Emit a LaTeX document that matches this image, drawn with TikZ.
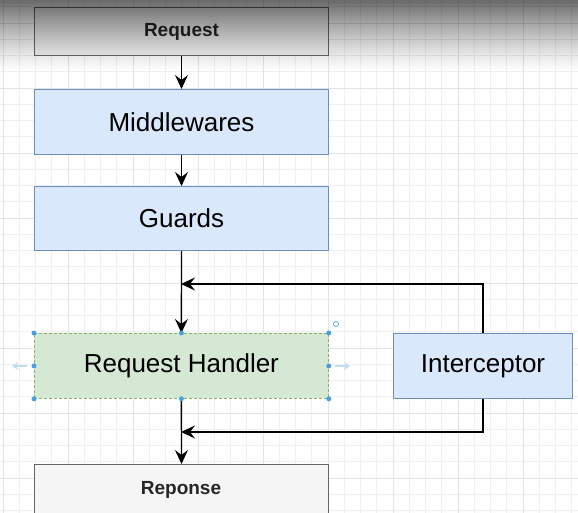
\documentclass[tikz,border=0pt]{standalone}
\usepackage{fontspec}
\setmainfont{Liberation Sans}
\usetikzlibrary{arrows.meta}
\definecolor{bluefill}{HTML}{DAE8FC}
\definecolor{blueline}{HTML}{6C8EBF}
\definecolor{greenfill}{HTML}{D5E8D4}
\definecolor{greenline}{HTML}{82B366}
\definecolor{grayfill}{HTML}{F5F5F5}
\definecolor{grayline}{HTML}{666666}
\definecolor{gridc}{HTML}{F0F0F0}
\definecolor{gridm}{HTML}{E4E4E4}
\definecolor{handle}{HTML}{4A9FE0}
\begin{document}
\begin{tikzpicture}[x=1pt,y=-1pt,
  box/.style={draw, rectangle, line width=1pt, anchor=north west, inner sep=0pt},
  bluebox/.style={box, fill=bluefill, draw=blueline, font=\fontsize{26}{30}\selectfont},
  flow/.style={line width=1.4pt, -{Stealth[length=14pt,width=13pt,inset=5pt]}},
  dot/.style={circle, fill=handle, inner sep=0pt, minimum size=5pt}]
\useasboundingbox (0,0) rectangle (578,513);
\fill[white] (0,0) rectangle (578,513);
% grid
\foreach \i in {0,...,36} {
  \pgfmathsetmacro\xx{3+16.25*\i}
  \draw[gridc, line width=0.6pt] (\xx,0) -- (\xx,513);
}
\foreach \i in {-1,...,31} {
  \pgfmathsetmacro\yy{23+16.25*\i}
  \draw[gridc, line width=0.6pt] (0,\yy) -- (578,\yy);
}
\foreach \i in {0,...,9} {
  \pgfmathsetmacro\xx{3+65*\i}
  \draw[gridm, line width=0.7pt] (\xx,0) -- (\xx,513);
}
\foreach \i in {0,...,7} {
  \pgfmathsetmacro\yy{23+65*\i}
  \draw[gridm, line width=0.7pt] (0,\yy) -- (578,\yy);
}
% request box (under the screen shading)
\node[box, fill=grayfill, draw=grayline, minimum width=294pt, minimum height=48pt,
  font=\bfseries\fontsize{19}{22}\selectfont, text=black!85] (req) at (34,7) {Request};
% top shading of the screenshot
\foreach \s in {0,2,...,70} {
  \pgfmathsetmacro\op{0.58*(1-\s/72)^1.3}
  \fill[black, opacity=\op] (0,\s) rectangle (578,\s+2);
}
% nodes
\node[bluebox, minimum width=294pt, minimum height=65pt] (mid) at (34,89) {Middlewares};
\node[bluebox, minimum width=294pt, minimum height=64pt] (grd) at (34,186) {Guards};
\node[box, fill=greenfill, draw=greenline, densely dashed, line width=0.8pt, minimum width=294pt, minimum height=65pt,
  font=\fontsize{26}{30}\selectfont] (rh) at (34,333) {Request Handler};
\node[bluebox, minimum width=179pt, minimum height=65pt] (int) at (393,333) {Interceptor};
\node[box, fill=grayfill, draw=grayline, minimum width=294pt, minimum height=60pt] (resp) at (34,464) {};
\node[font=\bfseries\fontsize{19}{22}\selectfont, text=black!85] (resptxt) at (181,490) {Reponse};
% connectors
\draw[flow] (req.south) -- (mid.north);
\draw[flow] (mid.south) -- (grd.north);
\draw[flow] (grd.south) -- (rh.north);
\draw[flow] (rh.south) -- (resp.north);
\coordinate (j1) at (181,284);
\coordinate (j2) at (181,432);
\draw[flow] (int.north) |- (j1);
\draw[flow] (int.south) |- (j2);
% selection handles
\foreach \a in {north west,north,north east,west,east,south west,south,south east}
  \node[dot] at (rh.\a) {};
\draw[handle!35, line width=2pt, -{Stealth[length=6pt,width=8pt]}] (27,366) -- (12,366);
\draw[handle!35, line width=2pt, -{Stealth[length=6pt,width=8pt]}] (335,366) -- (350,366);
\draw[handle, line width=0.7pt] (336,324) circle (2.5pt);
\end{tikzpicture}
\end{document}
